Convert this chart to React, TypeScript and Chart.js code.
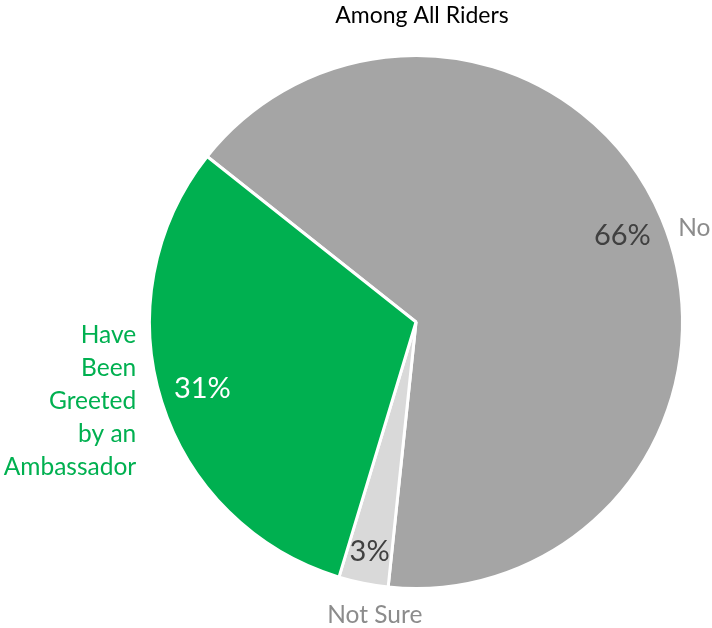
import React, { useEffect, useRef } from "react";
import { Chart, registerables } from "chart.js";

Chart.register(...registerables);

const title = "Among All Riders";
const categories = ["No", "Not Sure", "Have Been Greeted by an Ambassador"];
const labelLines = [["No"], ["Not Sure"], ["Have", "Been", "Greeted", "by an", "Ambassador"]];
const values = [66, 3, 31];
const colors = ["#a5a5a5", "#d9d9d9", "#00b050"];
const pctColors = ["#404040", "#404040", "#ffffff"];
const nameColors = ["#8c8c8c", "#8c8c8c", "#00b050"];

const FONT = "Lato, 'Open Sans', sans-serif";

const labelPlugin = {
  id: "pieLabels",
  afterDatasetsDraw(chart: any) {
    const ctx = chart.ctx;
    const meta = chart.getDatasetMeta(0);
    const total = values.reduce((a, b) => a + b, 0);
    ctx.save();
    // title
    ctx.fillStyle = "#000000";
    ctx.font = `23px ${FONT}`;
    ctx.textAlign = "center";
    ctx.textBaseline = "middle";
    ctx.fillText(title, (chart.chartArea.left + chart.chartArea.right) / 2 + 6, 16);
    meta.data.forEach((arc: any, i: number) => {
      const { x, y, startAngle, endAngle, outerRadius } = arc.getProps(
        ["x", "y", "startAngle", "endAngle", "outerRadius"],
        true
      );
      const mid = (startAngle + endAngle) / 2;
      const c = Math.cos(mid);
      const s = Math.sin(mid);
      const pct = Math.round((values[i] / total) * 100) + "%";
      const pr = outerRadius * (values[i] < 5 ? 0.88 : 0.84);
      ctx.font = `29px ${FONT}`;
      ctx.fillStyle = pctColors[i];
      ctx.textAlign = "center";
      ctx.textBaseline = "middle";
      ctx.fillText(pct, x + pr * c, y + pr * s);

      // outside name labels
      ctx.font = `24.5px ${FONT}`;
      ctx.fillStyle = nameColors[i];
      const lines = labelLines[i];
      const lh = 33;
      let lx: number, ly: number;
      if (Math.abs(c) < 0.3) {
        const rr = outerRadius + 33;
        lx = x + rr * c + 18;
        ly = y + rr * s;
        ctx.textAlign = "center";
      } else if (c > 0) {
        const rr = outerRadius + 18;
        lx = x + rr * c;
        ly = y + rr * s + 16;
        ctx.textAlign = "left";
      } else {
        const rr = outerRadius + 12;
        lx = x + rr * c - 14;
        ly = y + rr * s - 4;
        ctx.textAlign = "right";
      }
      const startY = ly - ((lines.length - 1) * lh) / 2;
      lines.forEach((ln, k) => ctx.fillText(ln, lx, startY + k * lh));
    });
    ctx.restore();
  },
};

export default function App() {
  const ref = useRef<HTMLCanvasElement>(null);
  useEffect(() => {
    if (!ref.current) return;
    const chart = new Chart(ref.current, {
      type: "pie",
      data: {
        labels: categories,
        datasets: [
          {
            data: values,
            backgroundColor: colors,
            borderColor: "#ffffff",
            borderWidth: 3,
          },
        ],
      },
      options: {
        animation: false,
        responsive: false,
        rotation: -51.6,
        layout: { padding: { left: 148, right: 28, top: 54, bottom: 38 } },
        plugins: {
          legend: { display: false },
          tooltip: { enabled: false },
          title: { display: false },
        },
      },
      plugins: [labelPlugin],
    });
    return () => chart.destroy();
  }, []);
  return (
    <div style={{ position: "fixed", left: 0, top: 0, width: 712, height: 628, background: "#fff" }}>
      <canvas ref={ref} width={712} height={628} />
    </div>
  );
}
